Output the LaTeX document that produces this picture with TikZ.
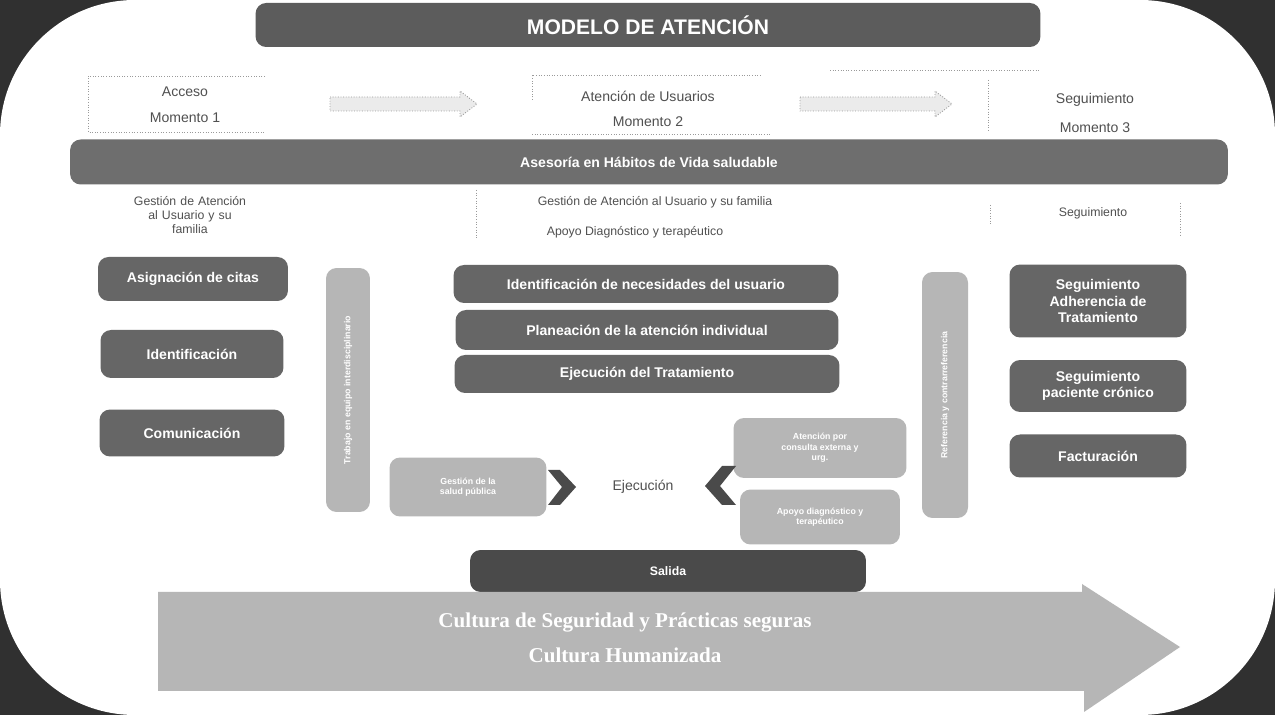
\documentclass[tikz,border=0pt]{standalone}
\usepackage{fontspec}
\setmainfont{Liberation Sans}
\newfontfamily\culturafont{Liberation Serif}
\definecolor{boxgray}{HTML}{666666}
\definecolor{softgray}{HTML}{B6B6B6}
\definecolor{deepgray}{HTML}{4A4A4A}
\definecolor{textgray}{HTML}{505050}
\definecolor{framegray}{HTML}{303030}
\definecolor{dotgray}{HTML}{9A9A9A}
\tikzset{
  darkbox/.style={rounded corners=6pt, fill=boxgray, text=white, font=\bfseries\footnotesize, align=center, inner sep=2pt},
  softbox/.style={rounded corners=6pt, fill=softgray, text=white, font=\bfseries\tiny, align=center, inner sep=2pt},
  plain/.style={font=\footnotesize, text=textgray, align=center},
  dotline/.style={dotgray, densely dotted, line width=0.5pt}
}
\begin{document}
\begin{tikzpicture}[x=0.02cm, y=-0.02cm]
  \useasboundingbox (0,0) rectangle (1275,715);
  \fill[framegray] (0,0) rectangle (1275,715);
  \fill[white, rounded corners=2.7cm] (0,0) rectangle (1275,715);

  % cabecera
  \node[darkbox, fill=deepgray!90, font=\bfseries\large, minimum width=15.7cm, minimum height=0.88cm] (titulo) at (648,25) {MODELO DE ATENCIÓN};

  \draw[dotline] (265,76) -- (88,76) -- (88,132) -- (265,132);
  \node[plain] (acceso) at (185,92) {Acceso};
  \node[plain] (mom1) at (185,118) {Momento 1};
  \draw[dotline, fill=white!92!black] (330,97) -- (460,97) -- (460,91) -- (477,104) -- (460,117) -- (460,111) -- (330,111) -- cycle;
  \draw[dotline] (532,100) -- (532,75) -- (762,75);
  \draw[dotline] (532,134) -- (770,134);
  \node[plain] (atencion) at (648,96) {Atención de Usuarios};
  \node[plain] (mom2) at (648,122) {Momento 2};
  \draw[dotline, fill=white!92!black] (800,97) -- (935,97) -- (935,91) -- (952,104) -- (935,117) -- (935,111) -- (800,111) -- cycle;
  \draw[dotline] (830,70) -- (1040,70);
  \draw[dotline] (988,80) -- (988,132);
  \node[plain] (segui) at (1095,100) {Seguimiento};
  \node[plain] (mom3) at (1095,128) {Momento 3};

  \node[darkbox, fill=boxgray!95, minimum width=23.16cm, minimum height=0.9cm] (asesoria) at (649,162) {Asesoría en Hábitos de Vida saludable};

  % columnas
  \node[plain, font=\scriptsize, text width=3.6cm] (gestion) at (190,215) {Gestión de Atención\\ al Usuario y su\\ familia};
  \draw[dotline] (476,190) -- (476,240);
  \node[plain, font=\scriptsize] (gestcentro) at (655,202) {Gestión de Atención al Usuario y su familia};
  \node[plain, font=\scriptsize] (apoyo) at (635,232) {Apoyo Diagnóstico y terapéutico};
  \draw[dotline] (990,205) -- (990,225);
  \draw[dotline] (1180,203) -- (1180,236);
  \node[plain, font=\scriptsize] (seguicol) at (1093,213) {Seguimiento};

  \node[darkbox, minimum width=3.8cm, minimum height=0.88cm] (citas) at (193,279) {Asignación de citas};
  \node[darkbox, minimum width=3.66cm, minimum height=0.96cm] (ident) at (192,354) {Identificación};
  \node[darkbox, minimum width=3.7cm, minimum height=0.94cm] (comun) at (192,433) {Comunicación};

  \node[softbox, minimum width=0.88cm, minimum height=4.88cm] (equipo) at (348,390) {};
  \node[text=white, font=\bfseries\tiny, rotate=90] (equipotxt) at (equipo.center) {Trabajo en equipo interdisciplinario};

  \node[darkbox, minimum width=7.7cm, minimum height=0.76cm] (necesid) at (646,284) {Identificación de necesidades del usuario};
  \node[darkbox, minimum width=7.66cm, minimum height=0.8cm] (planea) at (647,330) {Planeación de la atención individual};
  \node[darkbox, minimum width=7.7cm, minimum height=0.76cm] (ejectrat) at (647,374) {Ejecución del Tratamiento};

  \node[softbox, minimum width=0.92cm, minimum height=4.92cm] (referencia) at (945,395) {};
  \node[text=white, font=\bfseries\tiny, rotate=90] (referenciatxt) at (referencia.center) {Referencia y contrarreferencia};

  \node[darkbox, minimum width=3.54cm, minimum height=1.46cm] (adher) at (1098,301) {Seguimiento\\ Adherencia de\\ Tratamiento};
  \node[darkbox, minimum width=3.54cm, minimum height=1.04cm] (cronico) at (1098,386) {Seguimiento\\ paciente crónico};
  \node[darkbox, minimum width=3.54cm, minimum height=0.86cm] (factura) at (1098,456) {Facturación};

  % ejecucion
  \node[softbox, minimum width=3.14cm, minimum height=1.18cm] (salud) at (468,487) {Gestión de la\\ salud pública};
  \node[plain] (ejecucion) at (643,487) {Ejecución};
  \node[softbox, minimum width=3.46cm, minimum height=1.2cm] (consulta) at (820,448) {Atención por\\ consulta externa y\\ urg.};
  \node[softbox, minimum width=3.2cm, minimum height=1.1cm] (diagnos) at (820,517) {Apoyo diagnóstico y\\ terapéutico};
  \fill[deepgray] (548,470) -- (560,470) -- (576,487) -- (560,505) -- (548,505) -- (562,487) -- cycle;
  \fill[deepgray] (736,466) -- (722,466) -- (705,486) -- (722,505) -- (736,505) -- (720,486) -- cycle;

  \node[darkbox, fill=deepgray, font=\bfseries\scriptsize, minimum width=7.92cm, minimum height=0.84cm] (salida) at (668,571) {Salida};

  % flecha inferior
  \fill[softgray] (158,592) -- (1082,592) -- (1082,584) -- (1180,647) -- (1084,712) -- (1084,691) -- (158,691) -- cycle;
  \node[text=white, font=\culturafont\bfseries\large] (cultura) at (625,623) {Cultura de Seguridad y Prácticas seguras};
  \node[text=white, font=\culturafont\bfseries\large] (humanizada) at (625,655) {Cultura Humanizada};
\end{tikzpicture}
\end{document}
